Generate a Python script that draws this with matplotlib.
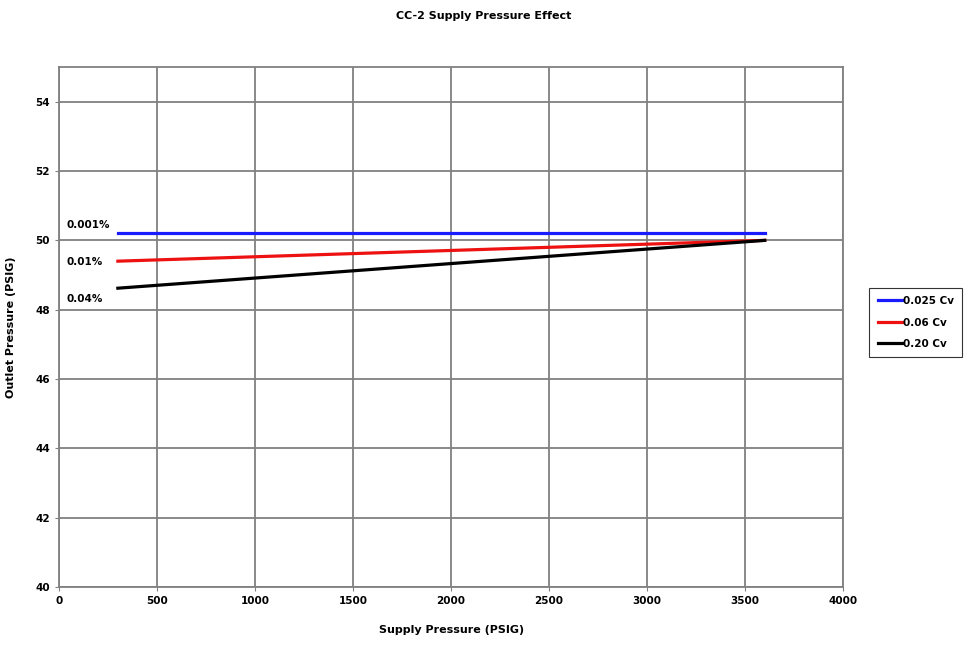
import numpy as np
import matplotlib.pyplot as plt

supply = [300, 3600]
cv_025 = [50.22, 50.22]
cv_006 = [49.40, 50.00]
cv_020 = [48.62, 50.00]
labels = ["0.025 Cv", "0.06 Cv", "0.20 Cv"]
notes = ["0.001%", "0.01%", "0.04%"]
note_y = [50.45, 49.38, 48.32]

plt.rcParams['font.family'] = 'DejaVu Sans'
plt.rcParams['font.weight'] = 'bold'

fig = plt.figure(figsize=(9.68, 6.45), dpi=100)
ax = fig.add_axes([0.061, 0.090, 0.810, 0.806])

ax.plot(supply, cv_025, color="#1a1aff", lw=2.3, label=labels[0])
ax.plot(supply, cv_006, color="#ee1111", lw=2.3, label=labels[1])
ax.plot(supply, cv_020, color="black", lw=2.3, label=labels[2])

for t, yy in zip(notes, note_y):
    ax.text(40, yy, t, fontsize=7.5, fontweight="bold", va="center", ha="left")

ax.set_xlim(0, 4000)
ax.set_ylim(40, 55)
ax.set_xticks(np.arange(0, 4001, 500))
ax.set_yticks(np.arange(40, 55, 2))
ax.grid(True, color="#808080", lw=1.3)
ax.set_axisbelow(True)
for s in ax.spines.values():
    s.set_color("#808080")
    s.set_linewidth(1.3)
ax.tick_params(labelsize=7.5, length=3, color="#808080")

ax.set_xlabel("Supply Pressure (PSIG)", fontsize=8, fontweight="bold", labelpad=14)
ax.set_ylabel("Outlet Pressure (PSIG)", fontsize=8, fontweight="bold", labelpad=14)
fig.text(0.5, 1 - 16 / 645, "CC-2 Supply Pressure Effect", fontsize=8, fontweight="bold",
         ha="center", va="center")

leg = fig.legend(loc="center left", bbox_to_anchor=(0.898, 0.500), fontsize=7.5,
                 frameon=True, fancybox=False, edgecolor="black", handlelength=2.3,
                 borderpad=0.8, labelspacing=1.1, handletextpad=0.1, borderaxespad=0)
leg.get_frame().set_linewidth(0.8)

fig.savefig("out.png", dpi=100)
